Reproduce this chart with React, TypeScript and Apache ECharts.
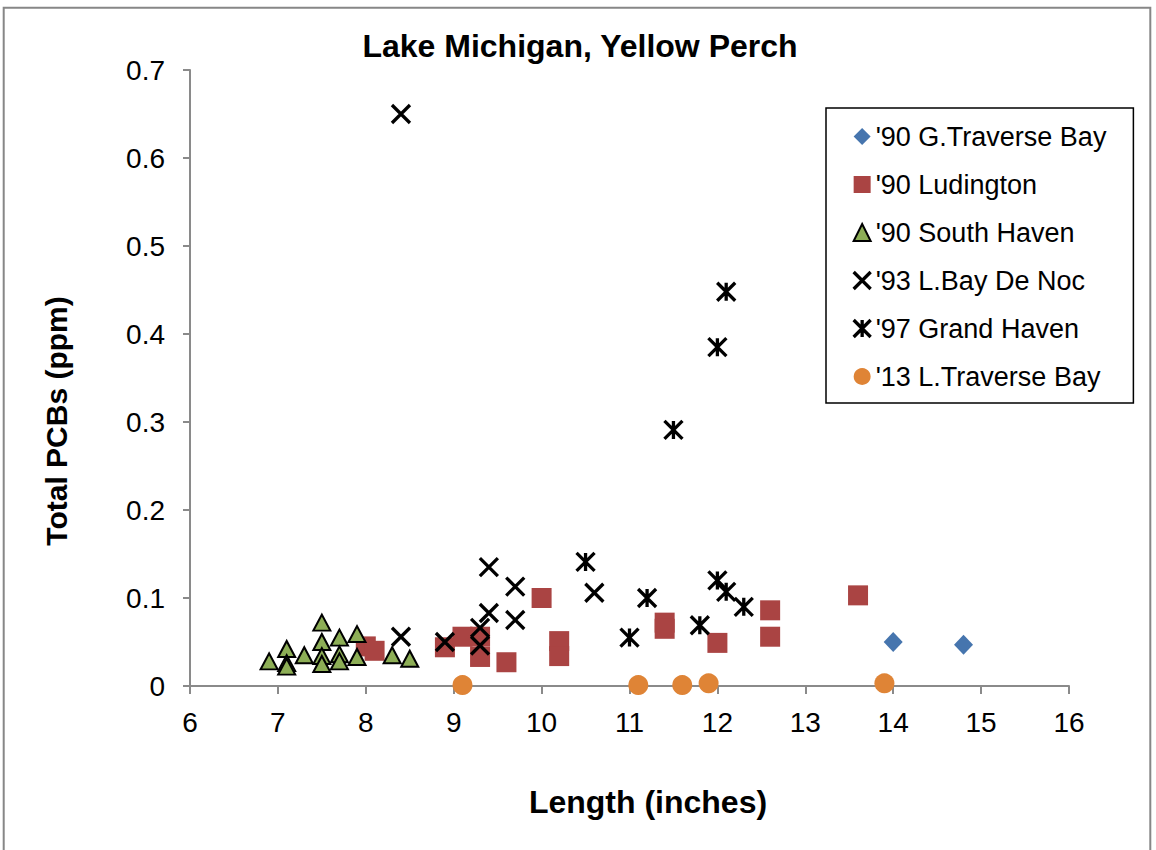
import React, { useEffect, useRef } from "react";
import * as echarts from "echarts";

// Length (inches), Total PCBs (ppm)
const gTraverseBay90 = [
  [14.0, 0.05],
  [14.8, 0.047],
];
const ludington90 = [
  [8.0, 0.045],
  [8.1, 0.04],
  [8.9, 0.044],
  [9.1, 0.056],
  [9.3, 0.056],
  [9.3, 0.033],
  [9.6, 0.027],
  [10.0, 0.1],
  [10.2, 0.051],
  [10.2, 0.034],
  [11.4, 0.072],
  [11.4, 0.065],
  [12.0, 0.049],
  [12.6, 0.086],
  [12.6, 0.056],
  [13.6, 0.103],
];
const southHaven90 = [
  [6.9, 0.028],
  [7.1, 0.042],
  [7.1, 0.026],
  [7.1, 0.022],
  [7.3, 0.035],
  [7.5, 0.072],
  [7.5, 0.05],
  [7.5, 0.034],
  [7.5, 0.025],
  [7.7, 0.055],
  [7.7, 0.036],
  [7.7, 0.028],
  [7.9, 0.059],
  [7.9, 0.033],
  [8.3, 0.035],
  [8.5, 0.031],
];
const lBayDeNoc93 = [
  [8.4, 0.65],
  [8.4, 0.056],
  [8.9, 0.05],
  [9.3, 0.066],
  [9.3, 0.046],
  [9.4, 0.135],
  [9.4, 0.083],
  [9.7, 0.113],
  [9.7, 0.075],
  [10.6, 0.106],
];
const grandHaven97 = [
  [10.5, 0.141],
  [11.0, 0.055],
  [11.2, 0.1],
  [11.5, 0.291],
  [11.8, 0.069],
  [12.0, 0.385],
  [12.0, 0.12],
  [12.1, 0.448],
  [12.1, 0.107],
  [12.3, 0.09],
];
const lTraverseBay13 = [
  [9.1, 0.001],
  [11.1, 0.001],
  [11.6, 0.001],
  [11.9, 0.003],
  [13.9, 0.003],
];

const seriesNames = [
  "'90 G.Traverse Bay",
  "'90 Ludington",
  "'90 South Haven",
  "'93 L.Bay De Noc",
  "'97 Grand Haven",
  "'13 L.Traverse Bay",
];

const chartTitle = "Lake Michigan, Yellow Perch";
const xTitle = "Length (inches)";
const yTitle = "Total PCBs (ppm)";

const FONT = '"Liberation Sans", Arial, Helvetica, sans-serif';
const AXIS_COLOR = "#8a8a8a";
const X_PATH = "path://M0,0L10,10M10,0L0,10";
const STAR_PATH = "path://M0,0L10,10M10,0L0,10M5,0L5,10";

export default function App() {
  const ref = useRef<HTMLDivElement>(null);

  useEffect(() => {
    if (!ref.current) return;
    const chart = echarts.init(ref.current, null, { renderer: "svg" });
    chart.setOption({
      animation: false,
      backgroundColor: "#ffffff",
      textStyle: { fontFamily: FONT },
      graphic: [
        {
          type: "rect",
          shape: { x: 3.7, y: 7.7, width: 1146.6, height: 900 },
          style: { fill: "none", stroke: "#878787", lineWidth: 2 },
          silent: true,
          z: -1,
        },
        {
          type: "text",
          x: 580,
          y: 46,
          silent: true,
          style: {
            text: chartTitle,
            textAlign: "center",
            textVerticalAlign: "middle",
            fontFamily: FONT,
            fontSize: 32,
            fontWeight: "bold",
            fill: "#000",
          },
        },
        {
          type: "text",
          x: 648,
          y: 802,
          silent: true,
          style: {
            text: xTitle,
            textAlign: "center",
            textVerticalAlign: "middle",
            fontFamily: FONT,
            fontSize: 32,
            fontWeight: "bold",
            fill: "#000",
          },
        },
        {
          type: "text",
          x: 56,
          y: 421,
          rotation: Math.PI / 2,
          silent: true,
          style: {
            text: yTitle,
            textAlign: "center",
            textVerticalAlign: "middle",
            fontFamily: FONT,
            fontSize: 30,
            fontWeight: "bold",
            fill: "#000",
          },
        },
      ],
      legend: {
        orient: "vertical",
        left: 826,
        top: 108,
        padding: [15, 27, 13, 26],
        itemWidth: 17,
        itemHeight: 17,
        itemGap: 21,
        borderColor: "#000",
        borderWidth: 1.5,
        selectedMode: false,
        itemStyle: { borderWidth: "inherit" },
        textStyle: { fontFamily: FONT, fontSize: 27, lineHeight: 27, color: "#000" },
        data: seriesNames,
      },
      grid: { left: 190, right: 87, top: 70, bottom: 164 },
      xAxis: {
        type: "value",
        min: 6,
        max: 16,
        interval: 1,
        axisLine: { show: true, onZero: false, lineStyle: { color: AXIS_COLOR, width: 2 } },
        axisTick: { show: true, length: 8, lineStyle: { color: AXIS_COLOR, width: 2 } },
        axisLabel: { fontFamily: FONT, fontSize: 28, color: "#000", margin: 22 },
        splitLine: { show: false },
      },
      yAxis: {
        type: "value",
        min: 0,
        max: 0.7,
        interval: 0.1,
        axisLine: { show: true, onZero: false, lineStyle: { color: AXIS_COLOR, width: 2 } },
        axisTick: { show: true, length: 7, lineStyle: { color: AXIS_COLOR, width: 2 } },
        axisLabel: { fontFamily: FONT, fontSize: 28, color: "#000", margin: 25 },
        splitLine: { show: false },
      },
      series: [
        {
          name: seriesNames[0],
          type: "scatter",
          symbol: "diamond",
          symbolSize: [19, 20],
          itemStyle: { color: "#4675AE", opacity: 1 },
          data: gTraverseBay90,
        },
        {
          name: seriesNames[1],
          type: "scatter",
          symbol: "rect",
          symbolSize: 20,
          itemStyle: { color: "#AA4443", opacity: 1 },
          data: ludington90,
        },
        {
          name: seriesNames[2],
          type: "scatter",
          symbol: "triangle",
          symbolSize: [17, 16],
          itemStyle: { color: "#8DAE56", borderColor: "#000", borderWidth: 2, opacity: 1 },
          data: southHaven90,
        },
        {
          name: seriesNames[3],
          type: "scatter",
          symbol: X_PATH,
          symbolSize: 18,
          itemStyle: { color: "#000", borderColor: "#000", borderWidth: 3.3, opacity: 1 },
          data: lBayDeNoc93,
        },
        {
          name: seriesNames[4],
          type: "scatter",
          symbol: STAR_PATH,
          symbolSize: 18,
          itemStyle: { color: "#000", borderColor: "#000", borderWidth: 3.3, opacity: 1 },
          data: grandHaven97,
        },
        {
          name: seriesNames[5],
          type: "scatter",
          symbol: "circle",
          symbolSize: 20,
          itemStyle: { color: "#DF8436", opacity: 1 },
          data: lTraverseBay13,
        },
      ],
    });
    return () => chart.dispose();
  }, []);

  return (
    <div
      ref={ref}
      style={{ position: "absolute", left: 0, top: 0, width: 1156, height: 850, background: "#fff" }}
    />
  );
}
